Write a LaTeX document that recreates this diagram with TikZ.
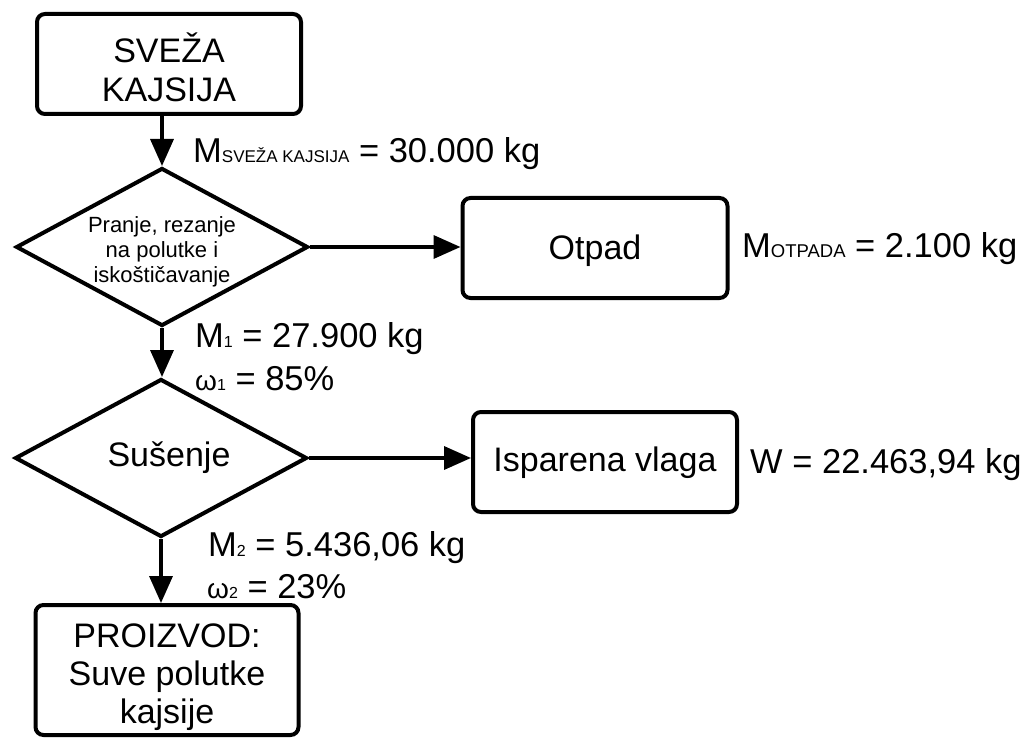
\documentclass[tikz,border=0pt]{standalone}
\usepackage{fontspec}
\setmainfont{Liberation Sans}
\usetikzlibrary{shapes.geometric,arrows.meta}
\newcommand{\fsz}[1]{\fontsize{#1}{#1}\selectfont}
\begin{document}
\begin{tikzpicture}[x=1pt,y=-1pt,
  box/.style={draw, line width=4pt, rounded corners=8pt, align=center, inner sep=0pt,
    font=\fontsize{34}{39}\selectfont},
  inner/.style={align=center, inner sep=0pt, font=\fontsize{34}{39}\selectfont},
  dia/.style={draw, diamond, line width=4pt, shape aspect=1.85, inner sep=0pt,
    minimum width=292pt, minimum height=158pt, align=center},
  arr/.style={line width=3.5pt, -{Triangle[length=27pt,width=23pt]}},
  lab/.style={anchor=base west, inner sep=0pt, font=\fontsize{34.5}{39}\selectfont}]
\useasboundingbox (0,0) rectangle (1023,738);

\node[box, minimum width=264pt, minimum height=100pt,
  label={[inner, yshift=-3pt]center:SVEŽA\\KAJSIJA}] (fresh) at (169,64) {};
\node[dia, label={[inner, font=\fontsize{22}{25}\selectfont, yshift=-5pt]center:Pranje, rezanje\\na polutke i\\iskoštičavanje}] (wash) at (162,247) {};
\node[box, minimum width=265pt, minimum height=100pt,
  label={[inner, yshift=-3pt]center:Otpad}] (waste) at (595,248) {};
\node[dia, label={[inner, xshift=8pt]center:Sušenje}] (dry) at (161,458) {};
\node[box, minimum width=264pt, minimum height=100pt,
  label={[inner, yshift=-1pt]center:Isparena vlaga}] (vapor) at (605,462) {};
\node[box, minimum width=263pt, minimum height=130pt,
  label={[inner, font=\fontsize{34}{38}\selectfont, yshift=-7pt]center:PROIZVOD:\\Suve polutke\\kajsije}] (prod) at (167,670) {};

\draw[arr] (fresh.south -| wash.north) -- (wash.north);
\draw[arr] (wash.east) -- (wash.east -| waste.west);
\draw[arr] (wash.south) -- (wash.south |- dry.north);
\draw[arr] (dry.east) -- (dry.east -| vapor.west);
\draw[arr] (dry.south) -- (dry.south |- prod.north);

\node[lab] (lfresh) at (193,163) {M{\fsz{17}SVEŽA KAJSIJA} = 30.000 kg};
\node[lab] (lwaste) at (742,258) {M{\fsz{18.5}OTPADA} = 2.100 kg};
\node[lab] (lm1) at (195,347) {M{\fsz{16}1} = 27.900 kg};
\node[lab] (lw1) at (195,390) {{\fsz{28}ω}{\fsz{16}1} = 85\%};
\node[lab] (lvap) at (750,473) {W = 22.463,94 kg};
\node[lab] (lm2) at (208,556) {M{\fsz{16}2} = 5.436,06 kg};
\node[lab] (lw2) at (207,598) {{\fsz{28}ω}{\fsz{16}2} = 23\%};
\end{tikzpicture}
\end{document}
